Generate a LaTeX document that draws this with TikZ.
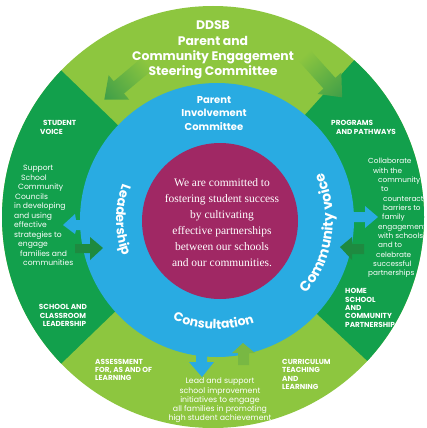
\documentclass[tikz,border=0pt]{standalone}
\usepackage{fontspec}
\setmainfont{Poppins}
\newfontfamily\serifc{Liberation Serif}
\usetikzlibrary{decorations.text}
\definecolor{lgreen}{HTML}{8DC63F}
\definecolor{dgreen}{HTML}{12A04C}
\definecolor{skyb}{HTML}{29ABE2}
\definecolor{mag}{HTML}{A02864}
\definecolor{agreen}{HTML}{3E9E48}
\definecolor{sgreen}{HTML}{1E8A40}
\definecolor{bgreen}{HTML}{78B843}
\tikzset{
  captext/.style={font=\bfseries\fontsize{7.3}{8.4}\selectfont, text=white, inner sep=0pt},
  bodytext/.style={font=\fontsize{7.6}{9.5}\selectfont, text=white, inner sep=0pt},
  ringtext/.style={decorate, decoration={text along path, text align=center, text color=white}},
}
\begin{document}
\begin{tikzpicture}[x=1pt,y=1pt]
\useasboundingbox (0,-428) rectangle (426,0);
\fill[white] (0,-428) rectangle (426,0);
% outer ring
\fill[lgreen] (213,-217) circle[radius=211];
\fill[dgreen] (213,-217) -- ++(136:211) arc[start angle=136,end angle=224,radius=211] -- cycle;
\fill[dgreen] (213,-217) -- ++(-43:211) arc[start angle=-43,end angle=48,radius=211] -- cycle;
% top shaded arrows
\begin{scope}[transform canvas={shift={(148pt,-63pt)}, rotate=220}]
  \shade[left color=lgreen, right color=agreen] (0,-8) -- (38,-8) -- (38,-16) -- (57,0) -- (38,16) -- (38,8) -- (0,8) -- cycle;
\end{scope}
\begin{scope}[transform canvas={shift={(304pt,-55pt)}, rotate=-48}]
  \shade[left color=lgreen, right color=agreen] (0,-8) -- (38,-8) -- (38,-16) -- (57,0) -- (38,16) -- (38,8) -- (0,8) -- cycle;
\end{scope}
% blue ring and blue arrows
\fill[skyb] (217,-220) circle[radius=137];
\fill[skyb] (90,-220) -- (76,-220) -- (75,-214) -- (63,-225) -- (75,-234) -- (76,-230) -- (90,-230) -- cycle;
\fill[skyb] (348,-212) -- (365,-212) -- (365,-206) -- (378,-217) -- (365,-228) -- (365,-222) -- (348,-222) -- cycle;
\fill[skyb] (196,-350) -- (196,-362) -- (189,-362) -- (202,-377) -- (214,-362) -- (207,-362) -- (207,-350) -- cycle;
% green arrows
\fill[sgreen] (75,-244) -- (90,-244) -- (90,-237) -- (103,-248) -- (90,-260) -- (90,-253) -- (75,-253) -- cycle;
\fill[sgreen] (364,-244) -- (352,-244) -- (352,-237) -- (340,-247) -- (352,-260) -- (352,-254) -- (364,-254) -- cycle;
\fill[bgreen] (238,-365) -- (238,-353) -- (232,-353) -- (243,-343) -- (255,-353) -- (249,-353) -- (249,-365) -- cycle;
% centre
\fill[mag] (220,-221) circle[radius=78];
\node[font=\serifc\fontsize{11.5}{16}\selectfont, text=white, align=center, inner sep=0pt] (centre) at (222,-223)
  {We are committed to\\fostering student success\\by cultivating\\effective partnerships\\between our schools\\and our communities.};
% ring labels
\path[ringtext, decoration={text={|\bfseries\fontsize{13}{13}\selectfont|Leadership}}]
  (217,-220) ++(140:101) arc[start angle=140,end angle=220,radius=101];
\path[ringtext, decoration={text={|\bfseries\fontsize{14}{14}\selectfont|Community voice}}]
  (217,-220) ++(-62:116) arc[start angle=-62,end angle=47,radius=116];
\path[ringtext, decoration={text={|\bfseries\fontsize{12.5}{12.5}\selectfont|Consultation}}]
  (217,-220) ++(230:109) arc[start angle=230,end angle=306,radius=109];
% titles
\node[font=\bfseries\fontsize{12.4}{15.3}\selectfont, text=white, align=center, inner sep=0pt] (title) at (213,-50)
  {DDSB\\Parent and\\Community Engagement\\Steering Committee};
\node[font=\bfseries\fontsize{10}{13.5}\selectfont, text=white, align=center, inner sep=0pt] (pic) at (214,-113.5)
  {Parent\\Involvement\\Committee};
% sector captions
\node[captext, anchor=west, align=left] (studentvoice) at (40,-127.5) {\hspace*{3pt}STUDENT\\VOICE};
\node[captext, align=center] (schoolclass) at (63,-315.5) {SCHOOL AND\\CLASSROOM\\\hspace*{3pt}LEADERSHIP};
\node[captext, anchor=west, align=left] (assess) at (95,-370) {ASSESSMENT\\FOR, AS AND OF\\LEARNING};
\node[captext, anchor=west, align=left] (curric) at (282,-374.5) {CURRICULUM\\TEACHING\\AND\\LEARNING};
\node[captext, anchor=west, align=left] (programs) at (331,-127.5) {PROGRAMS\\\hspace*{5pt}AND PATHWAYS};
\node[captext, anchor=west, align=left] (home) at (345,-308) {HOME\\SCHOOL\\AND\\COMMUNITY\\PARTNERSHIP};
% body texts
\node[bodytext, anchor=west, align=left] (leftbody) at (14,-215.5)
  {\hspace*{9pt}Support\\\hspace*{7pt}School\\\hspace*{4pt}Community\\\hspace*{1pt}Councils\\in developing\\and using\\effective\\strategies to\\\hspace*{4pt}engage\\\hspace*{6pt}families and\\\hspace*{9pt}communities};
\node[bodytext, anchor=west, align=left, font=\fontsize{7.3}{9.33}\selectfont] (rightbody) at (368,-218)
  {Collaborate\\\hspace*{5pt}with the\\\hspace*{10pt}community\\\hspace*{13pt}to\\\hspace*{15pt}counteract\\\hspace*{15pt}barriers to\\\hspace*{14pt}family\\\hspace*{10pt}engagement\\\hspace*{10pt}with schools\\\hspace*{10pt}and to\\\hspace*{8pt}celebrate\\\hspace*{5pt}successful\\partnerships};
\node[bodytext, align=center, font=\fontsize{7.8}{9.3}\selectfont] (bottombody) at (220,-400.5)
  {Lead and support\\school improvement\\initiatives to engage\\all families in promoting\\high student achievement};
\end{tikzpicture}
\end{document}
